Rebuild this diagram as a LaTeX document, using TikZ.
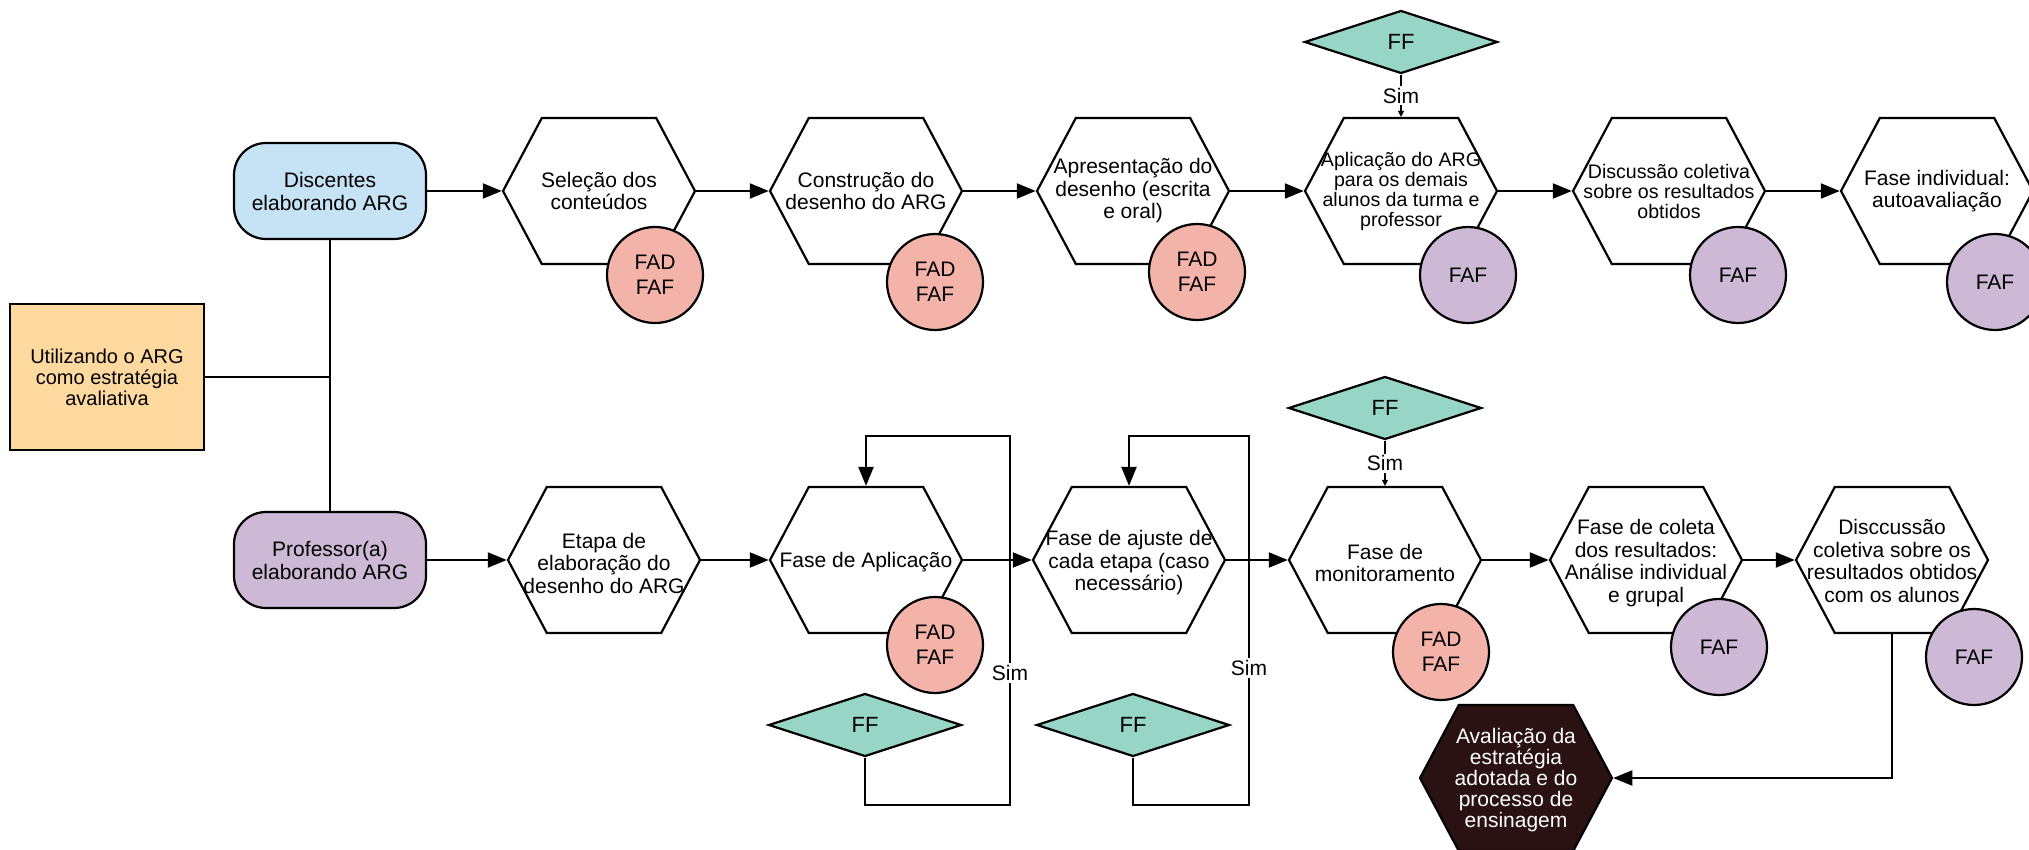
\documentclass[tikz,border=0pt]{standalone}
\usepackage{fontspec}
\setmainfont{Liberation Sans}
\usetikzlibrary{shapes.geometric,shapes.symbols,arrows.meta,calc}

\definecolor{azulclaro}{HTML}{C6E2F5}
\definecolor{lilas}{HTML}{CDB8D6}
\definecolor{laranja}{HTML}{FDD9A0}
\definecolor{salmao}{HTML}{F4B3A9}
\definecolor{verdeagua}{HTML}{97D5C6}
\definecolor{marrom}{HTML}{2B1212}

\begin{document}
\begin{tikzpicture}[x=0.5pt, y=-0.5pt,
    every node/.style={font=\fontsize{10.5}{11.25}\selectfont},
    etapa/.style={shape=signal, signal to=east and west, signal pointer angle=124,
      draw, line width=1.1pt, fill=white, minimum width=96pt, minimum height=73pt, inner sep=0pt},
    texto/.style={align=center, inner sep=0pt},
    textomenor/.style={texto, font=\fontsize{9.8}{10}\selectfont},
    sujeito/.style={draw, line width=1.1pt, rounded corners=16pt, minimum width=96pt,
      minimum height=48pt, align=center, font=\fontsize{10.5}{11.5}\selectfont},
    bola/.style={circle, draw, line width=1.1pt, minimum size=48pt, inner sep=0pt,
      align=center, font=\fontsize{10.5}{12.5}\selectfont},
    fad/.style={bola, fill=salmao},
    faf/.style={bola, fill=lilas},
    decisao/.style={diamond, draw, line width=1.1pt, fill=verdeagua, minimum width=96.5pt,
      minimum height=31.5pt, inner sep=0pt, font=\fontsize{11}{11}\selectfont},
    seta/.style={line width=1.1pt, -{Triangle[length=9.5pt,width=7.5pt]}},
    setinha/.style={line width=0.6pt, -{Triangle[length=3pt,width=3pt]}},
    sim/.style={fill=white, inner sep=1pt},
  ]
\useasboundingbox[fill=white] (0,0) rectangle (2029,850);

% ponto de partida
\node[draw, line width=1.1pt, fill=laranja, minimum width=97pt, minimum height=73pt,
  align=center, font=\fontsize{10}{10.5}\selectfont] (arg) at (107,377)
  {Utilizando o ARG\\como estratégia\\avaliativa};
\node[sujeito, fill=azulclaro] (disc) at (330,191) {Discentes\\elaborando ARG};
\node[sujeito, fill=lilas] (prof) at (330,560) {Professor(a)\\elaborando ARG};
\coordinate (junta) at (330,377);

% discentes
\node[etapa] (h1) at (599,191) {};
\node[texto] (t1) at (h1) {Seleção dos\\conteúdos};
\node[etapa] (h2) at (866,191) {};
\node[texto] (t2) at (h2) {Construção do\\desenho do ARG};
\node[etapa] (h3) at (1133,191) {};
\node[texto] (t3) at (h3) {Apresentação do\\desenho (escrita\\e oral)};
\node[etapa] (h4) at (1401,191) {};
\node[textomenor] (t4) at (h4) {Aplicação do ARG\\para os demais\\alunos da turma e\\professor};
\node[etapa] (h5) at (1669,191) {};
\node[textomenor] (t5) at (h5) {Discussão coletiva\\sobre os resultados\\obtidos};
\node[etapa] (h6) at (1937,191) {};
\node[texto] (t6) at (h6) {Fase individual:\\autoavaliação};

\node[fad] (c1) at (655,275) {FAD\\FAF};
\node[fad] (c2) at (935,282) {FAD\\FAF};
\node[fad] (c3) at (1197,272) {FAD\\FAF};
\node[faf] (c4) at (1468,275) {FAF};
\node[faf] (c5) at (1738,275) {FAF};
\node[faf] (c6) at (1995,282) {FAF};

\node[decisao] (dt) at (1401,42) {FF};

% professor
\node[etapa] (b1) at (604,560) {};
\node[texto] (s1) at ($(b1)+(0,3)$) {Etapa de\\elaboração do\\desenho do ARG};
\node[etapa] (b2) at (866,560) {};
\node[texto] (s2) at ($(b2)+(0,2)$) {Fase de Aplicação};
\node[etapa] (b3) at (1129,560) {};
\node[texto] (s3) at ($(b3)+(0,3)$) {Fase de ajuste de\\cada etapa (caso\\necessário)};
\node[etapa] (b4) at (1385,560) {};
\node[texto] (s4) at ($(b4)+(0,3)$) {Fase de\\monitoramento};
\node[etapa] (b5) at (1646,560) {};
\node[texto] (s5) at ($(b5)+(0,3)$) {Fase de coleta\\dos resultados:\\Análise individual\\e grupal};
\node[etapa] (b6) at (1892,560) {};
\node[texto] (s6) at ($(b6)+(0,1)$) {Disccussão\\coletiva sobre os\\resultados obtidos\\com os alunos};

\node[fad] (cb2) at (935,645) {FAD\\FAF};
\node[fad] (cb4) at (1441,652) {FAD\\FAF};
\node[faf] (cb5) at (1719,647) {FAF};
\node[faf] (cb6) at (1974,657) {FAF};

\node[decisao] (db4) at (1385,408) {FF};
\node[decisao] (db2) at (865,725) {FF};
\node[decisao] (db3) at (1133,725) {FF};

\node[etapa, fill=marrom] (aval) at (1516,778) {};
\node[texto, text=white, font=\fontsize{10.5}{10.6}\selectfont] (ta) at ($(aval)+(0,2)$)
  {Avaliação da\\estratégia\\adotada e do\\processo de\\ensinagem};

% ligacoes
\draw[line width=1.1pt] (arg.east) -- (junta);
\draw[line width=1.1pt] (disc.south) -- (prof.north);
\draw[seta] (disc.east) -- (h1.west);
\draw[seta] (h1.east) -- (h2.west);
\draw[seta] (h2.east) -- (h3.west);
\draw[seta] (h3.east) -- (h4.west);
\draw[seta] (h4.east) -- (h5.west);
\draw[seta] (h5.east) -- (h6.west);
\draw[seta] (prof.east) -- (b1.west);
\draw[seta] (b1.east) -- (b2.west);
\draw[seta] (b2.east) -- (b3.west);
\draw[seta] (b3.east) -- (b4.west);
\draw[seta] (b4.east) -- (b5.west);
\draw[seta] (b5.east) -- (b6.west);
\draw[seta] (b6.south) |- (aval.east);

\draw[setinha] (dt.south) -- node[sim] (sim1) {Sim} (h4.north);
\draw[setinha] (db4.south) -- node[sim] (sim2) {Sim} (b4.north);

\draw[seta] (db2.south) |- (1010,805) |- ($(b2.north)+(0,-50)$) -- (b2.north);
\node[sim] (sim3) at (1010,673) {Sim};
\draw[seta] (db3.south) |- (1249,805) |- ($(b3.north)+(0,-50)$) -- (b3.north);
\node[sim] (sim4) at (1249,668) {Sim};
\end{tikzpicture}
\end{document}
